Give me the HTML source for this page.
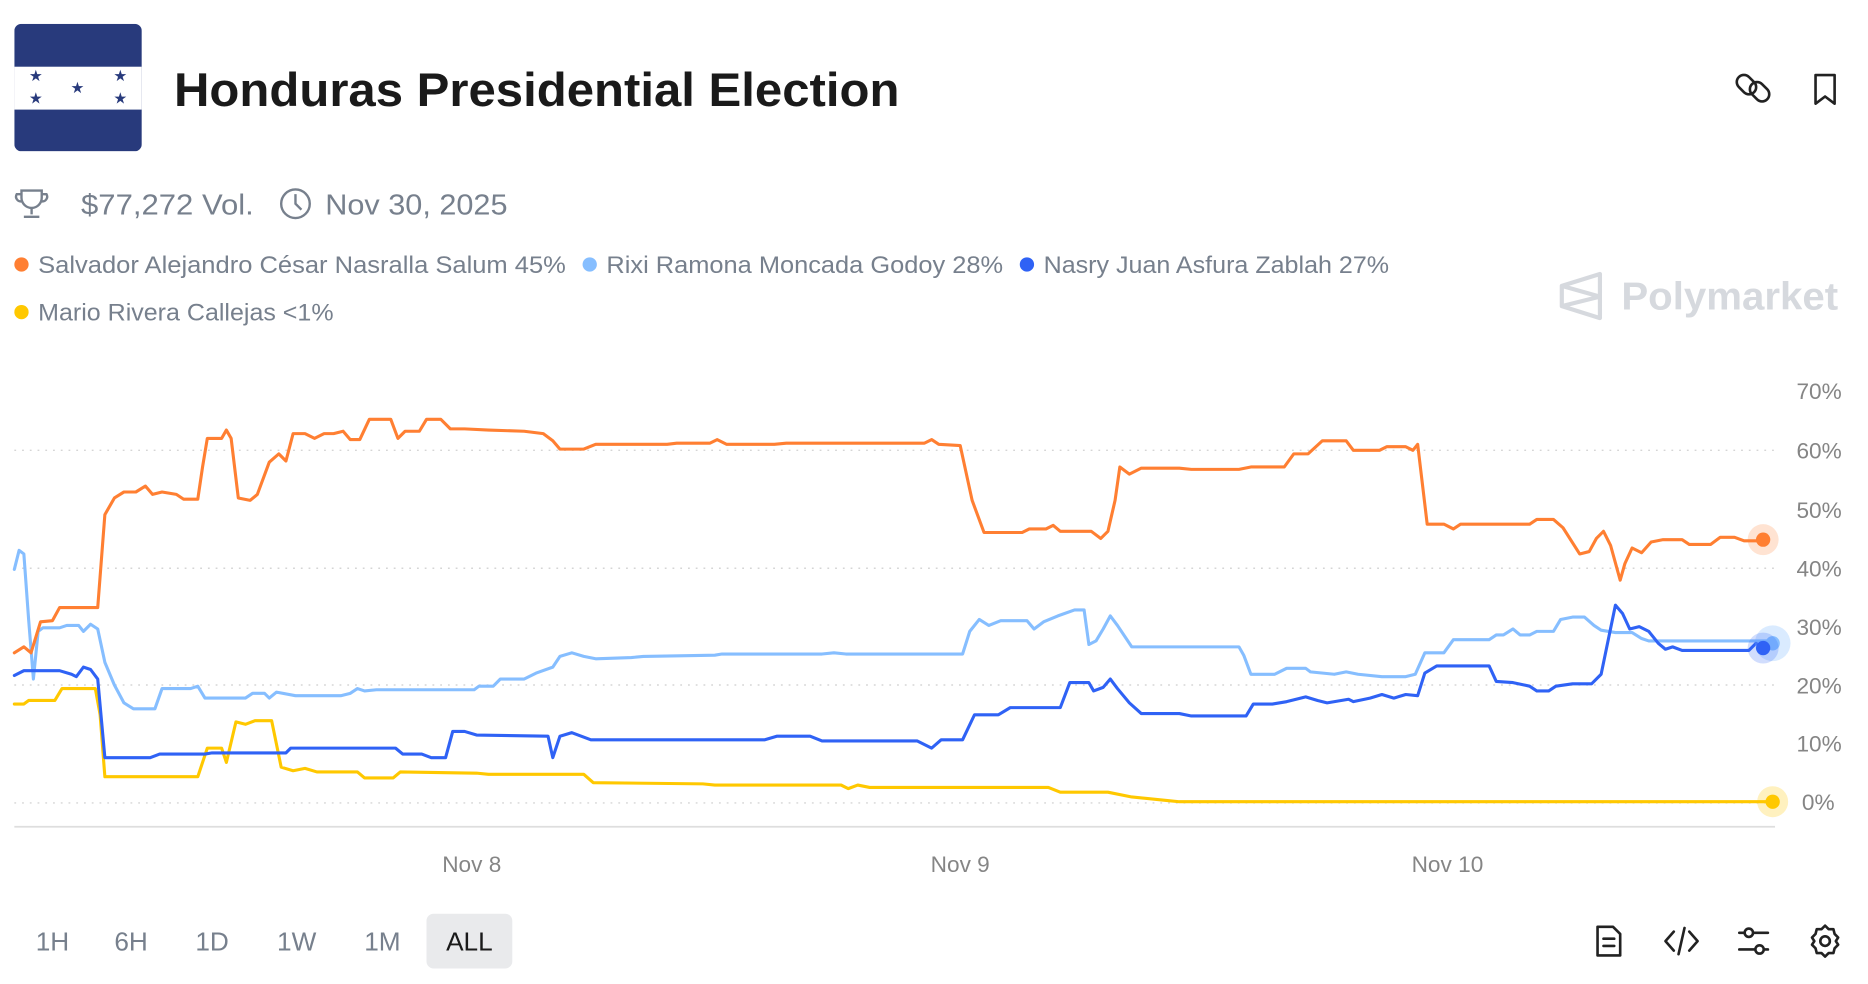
<!DOCTYPE html>
<html><head><meta charset="utf-8"><style>
html,body{margin:0;padding:0;background:#fff;width:1868px;height:984px;overflow:hidden}
svg{display:block}
text{font-family:"Liberation Sans",sans-serif}
</style></head><body>
<svg width="1868" height="984" viewBox="0 0 1568 826" xmlns="http://www.w3.org/2000/svg">
<defs><clipPath id="fc"><rect x="12" y="20" width="107" height="107" rx="6"/></clipPath></defs>
<g clip-path="url(#fc)">
<rect x="12" y="20" width="107" height="107" fill="#283a7c"/>
<rect x="12" y="56" width="107" height="36" fill="#fff"/>
</g>
<g fill="#283a7c" font-size="13" text-anchor="middle">
<text x="30" y="68">★</text><text x="101" y="68">★</text><text x="65" y="78">★</text><text x="30" y="87">★</text><text x="101" y="87">★</text>
</g>
<text x="146" y="89" font-size="40" font-weight="bold" fill="#1a1a1a" textLength="609" lengthAdjust="spacingAndGlyphs">Honduras Presidential Election</text>
<g fill="none" stroke="#222" stroke-width="2.2" stroke-linecap="round">
<rect x="1460" y="62" width="12" height="18" rx="6" transform="rotate(-45 1466 71)"/>
<rect x="1471" y="68" width="12" height="18" rx="6" transform="rotate(-45 1477 77)"/>
<path d="M1524 63 h16 v24 l-8 -6 l-8 6 z" stroke-linejoin="round"/>
</g>
<g fill="none" stroke="#77808d" stroke-width="2">
<path d="M18 160 h17 v6 a8.5 8.5 0 0 1 -17 0 z M18 163 h-4 a4 4 0 0 0 4 6 M35 163 h4 a4 4 0 0 1 -4 6 M26.5 175 v5 M20 182 h13"/>
<circle cx="248" cy="171" r="12"/><path d="M248 163 v8 l5 5"/>
</g>
<text x="68" y="180" font-size="24" fill="#77808d" textLength="145" lengthAdjust="spacingAndGlyphs">$77,272 Vol.</text>
<text x="273" y="180" font-size="24" fill="#77808d" textLength="153" lengthAdjust="spacingAndGlyphs">Nov 30, 2025</text>
<g font-size="20" fill="#77808d">
<circle cx="18" cy="222" r="6" fill="#ff7f32"/><text x="32" y="229" textLength="443" lengthAdjust="spacingAndGlyphs">Salvador Alejandro César Nasralla Salum 45%</text>
<circle cx="495" cy="222" r="6" fill="#86beff"/><text x="509" y="229" textLength="333" lengthAdjust="spacingAndGlyphs">Rixi Ramona Moncada Godoy 28%</text>
<circle cx="862" cy="222" r="6" fill="#2f62f5"/><text x="876" y="229" textLength="290" lengthAdjust="spacingAndGlyphs">Nasry Juan Asfura Zablah 27%</text>
<circle cx="18" cy="262" r="6" fill="#ffc800"/><text x="32" y="269" textLength="248" lengthAdjust="spacingAndGlyphs">Mario Rivera Callejas &lt;1%</text>
</g>
<g fill="none" stroke="#d6d9de" stroke-width="3.5" stroke-linejoin="round">
<path d="M1311 240 L1343 230 L1343 267 L1311 257 Z M1311 240 L1343 249 L1311 257"/>
</g>
<text x="1361" y="260" font-size="33" font-weight="bold" fill="#d6d9de" textLength="182" lengthAdjust="spacingAndGlyphs">Polymarket</text>
<g stroke="#d5d5d5" stroke-width="1.2" stroke-dasharray="1.5 5">
<line x1="12" y1="378" x2="1490" y2="378"/><line x1="12" y1="477" x2="1490" y2="477"/>
<line x1="12" y1="575" x2="1490" y2="575"/><line x1="12" y1="674" x2="1490" y2="674"/>
</g>
<line x1="12" y1="694" x2="1490" y2="694" stroke="#dedede" stroke-width="1.5"/>
<g font-size="19" fill="#858585" text-anchor="end">
<text x="1546" y="335">70%</text><text x="1546" y="385">60%</text><text x="1546" y="435">50%</text><text x="1546" y="484">40%</text><text x="1546" y="533">30%</text><text x="1546" y="582">20%</text><text x="1546" y="631">10%</text><text x="1540" y="680">0%</text>
</g>
<g font-size="19" fill="#858585" text-anchor="middle">
<text x="396" y="732">Nov 8</text><text x="806" y="732">Nov 9</text><text x="1215" y="732">Nov 10</text>
</g>
<g fill="none" stroke-width="2.6" stroke-linejoin="round" stroke-linecap="round">
<polyline stroke="#ffc800" points="12,591 20,591 24,588 46,588 52,578 80,578 84,600 88,652 166,652 174,628 186,628 190,640 198,606 206,608 214,605 228,605 236,644 246,647 256,645 266,648 300,648 306,653 330,653 336,648 400,649 410,650 490,650 498,657 590,658 600,659 706,659 712,662 720,659 730,661 880,661 890,665 930,665 950,669 980,672 990,673 1488,673"/>
<polyline stroke="#86beff" points="12,478 16,462 20,465 24,520 28,570 32,530 36,527 50,527 56,525 66,525 70,530 76,524 82,528 88,556 96,575 104,590 112,595 130,595 136,578 160,578 166,576 172,586 206,586 212,582 222,582 226,586 232,581 248,584 286,584 294,582 300,578 306,580 316,579 398,579 402,576 414,576 420,570 440,570 450,565 464,560 470,551 480,548 490,551 500,553 530,552 540,551 600,550 606,549 690,549 700,548 710,549 808,549 814,530 822,520 830,525 840,521 862,521 868,528 876,522 888,517 902,512 910,512 914,541 920,538 926,528 932,517 938,525 950,543 1040,543 1044,550 1050,566 1070,566 1080,561 1096,561 1100,564 1120,566 1130,564 1140,566 1160,568 1180,568 1188,566 1196,548 1212,548 1220,537 1250,537 1256,533 1262,533 1270,528 1276,533 1284,533 1290,530 1304,530 1310,520 1320,518 1330,518 1338,525 1344,529 1356,531 1370,531 1378,536 1384,538 1488,538"/>
<polyline stroke="#2f62f5" points="12,567 20,563 50,563 60,566 64,568 70,560 76,562 82,570 88,636 126,636 134,633 172,633 178,632 240,632 244,628 332,628 338,633 354,633 362,636 374,636 380,614 390,614 400,617 460,618 464,636 470,618 480,615 496,621 642,621 652,618 680,618 690,622 770,622 778,626 782,628 790,621 808,621 818,600 838,600 848,594 890,594 898,573 914,573 918,580 926,577 932,570 938,578 948,590 958,599 990,599 1000,601 1046,601 1052,591 1068,591 1080,589 1096,585 1106,588 1114,590 1132,587 1136,589 1150,586 1160,583 1170,586 1180,583 1190,584 1196,565 1206,559 1250,559 1256,572 1270,573 1284,576 1290,580 1300,580 1306,576 1320,574 1336,574 1344,566 1356,508 1362,515 1368,528 1376,526 1384,530 1392,540 1398,545 1404,543 1412,546 1468,546 1474,540 1480,544"/>
<polyline stroke="#ff7f32" points="12,548 20,543 26,548 34,522 44,521 50,510 82,510 88,432 96,418 104,413 114,413 122,408 128,415 136,413 148,415 154,419 166,419 170,392 174,368 186,368 190,361 194,368 200,418 210,420 216,415 226,388 234,381 240,387 246,364 256,364 264,368 272,364 280,364 288,362 294,369 302,369 310,352 328,352 334,368 340,362 352,362 358,352 370,352 378,360 390,360 410,361 440,362 456,364 464,370 470,377 490,377 500,373 560,373 568,372 596,372 602,369 610,373 650,373 660,372 776,372 782,369 788,373 806,374 816,420 826,447 858,447 864,444 878,444 884,441 890,446 916,446 924,452 930,446 936,420 940,392 948,398 958,393 990,393 1000,394 1040,394 1050,392 1078,392 1086,381 1098,381 1110,370 1130,370 1136,378 1158,378 1164,375 1180,375 1186,378 1190,373 1198,440 1212,440 1220,444 1226,440 1284,440 1290,436 1304,436 1312,443 1326,465 1334,463 1340,452 1346,446 1352,458 1360,487 1364,473 1370,460 1378,464 1386,455 1396,453 1412,453 1418,457 1436,457 1444,451 1456,451 1464,454 1480,454"/>
</g>
<circle cx="1480" cy="453" r="13" fill="#ff7f32" opacity="0.22"/><circle cx="1480" cy="453" r="6" fill="#ff7f32"/>
<circle cx="1488" cy="540" r="15" fill="#86beff" opacity="0.3"/><circle cx="1488" cy="540" r="6" fill="#86beff"/>
<circle cx="1480" cy="544" r="13" fill="#2f62f5" opacity="0.22"/><circle cx="1480" cy="544" r="6" fill="#2f62f5"/>
<circle cx="1488" cy="673" r="13" fill="#ffc800" opacity="0.25"/><circle cx="1488" cy="673" r="6" fill="#ffc800"/>
<rect x="358" y="767" width="72" height="46" rx="6" fill="#e9eaec"/>
<g font-size="22" fill="#77808d" text-anchor="middle">
<text x="44" y="798">1H</text><text x="110" y="798">6H</text><text x="178" y="798">1D</text><text x="249" y="798">1W</text><text x="321" y="798">1M</text>
<text x="394" y="798" fill="#1a1a1a">ALL</text>
</g>
<g fill="none" stroke="#222" stroke-width="2.2" stroke-linecap="round" stroke-linejoin="round">
<path d="M1341 778 h13 l6 6 v18 h-19 z M1346 788 h9 M1346 794 h9"/>
<path d="M1405 782 l-7 8 l7 8 M1418 782 l7 8 l-7 8 M1414 779 l-5 22"/>
<path d="M1460 783 h24 M1460 797 h24"/><circle cx="1468" cy="783" r="3.5" fill="#fff"/><circle cx="1477" cy="797" r="3.5" fill="#fff"/>
<circle cx="1532" cy="790" r="4"/><path d="M1532 777 l3 3 h4 l1 4 l3 3 l-2 3 l2 3 l-3 3 l-1 4 h-4 l-3 3 l-3 -3 h-4 l-1 -4 l-3 -3 l2 -3 l-2 -3 l3 -3 l1 -4 h4 z"/>
</g>
</svg>
</body></html>
